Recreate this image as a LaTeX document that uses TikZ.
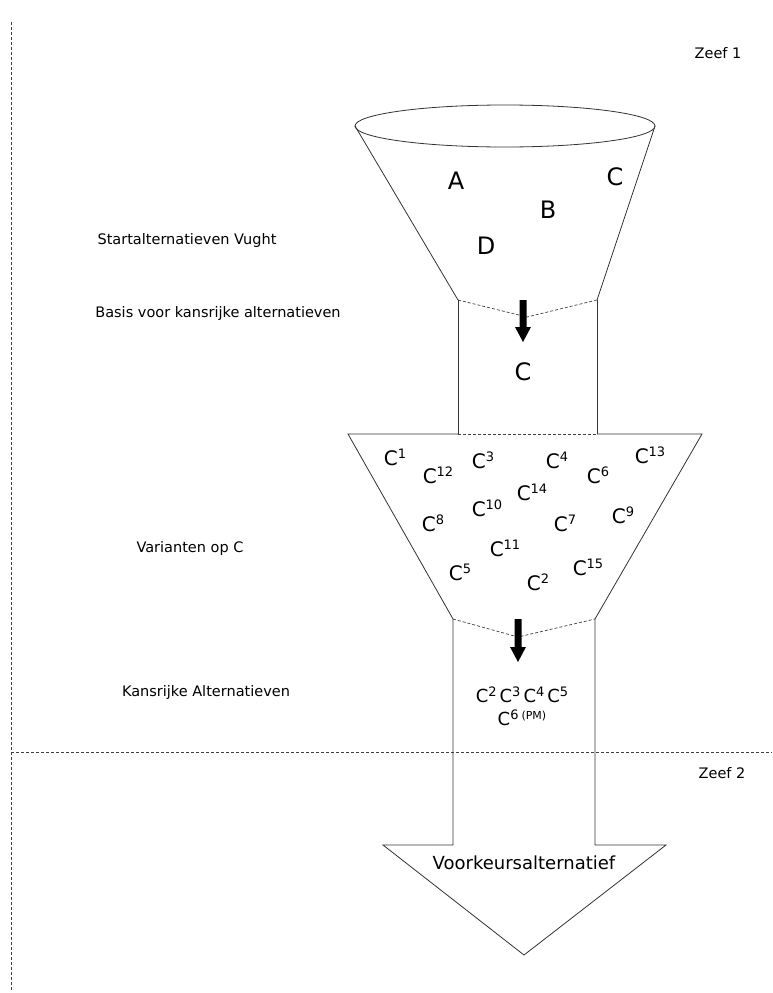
\documentclass[tikz,border=0pt]{standalone}
\usepackage{fontspec}
\setmainfont{DejaVu Sans}
\newcommand\spr[1]{\raisebox{0.36em}{\fontsize{13}{13}\selectfont #1}}
\newcommand\sprs[1]{\raisebox{0.36em}{\fontsize{11}{11}\selectfont #1}}
\begin{document}
\begin{tikzpicture}[x=1pt,y=-1pt,
  outline/.style={draw=black!80,line width=0.8pt},
  dsh/.style={draw=black!75,dash pattern=on 3pt off 2pt,line width=0.7pt},
  lbl/.style={font=\fontsize{14.5}{17}\selectfont,inner sep=0pt},
  big/.style={font=\fontsize{24}{28}\selectfont,inner sep=0pt},
  cc/.style={font=\fontsize{20}{24}\selectfont,inner sep=0pt},
  kc/.style={font=\fontsize{18}{22}\selectfont,inner sep=0pt},
  fat/.style={fill=black,draw=none}]
\useasboundingbox[fill=white] (0,0) rectangle (772,993);
% guide lines
\coordinate (vtop) at (11,22);
\coordinate (vbot) at (11,990);
\coordinate (hl) at (11,752);
\coordinate (hr) at (772,752);
\draw[dsh] (vtop) -- (vbot);
\draw[dsh] (hl) -- (hr);
% funnel 1
\coordinate (el) at (355,126);
\coordinate (er) at (655,126);
\coordinate (n1l) at (458,300);
\coordinate (n1r) at (597,300);
\coordinate (n1v) at (527,317);
\draw[outline] (505,126) ellipse (150 and 21);
\draw[outline] (el) -- (n1l);
\draw[outline] (er) -- (n1r);
\draw[dsh] (n1l) -- (n1v) -- (n1r);
% tube 1
\coordinate (t1l) at (458,434);
\coordinate (t1r) at (597,434);
\draw[outline] (n1l) -- (t1l);
\draw[outline] (n1r) -- (t1r);
% trapezoid
\coordinate (zl) at (348,434);
\coordinate (zr) at (702,434);
\coordinate (n2l) at (453,619);
\coordinate (n2r) at (595,619);
\coordinate (n2v) at (518,637);
\draw[outline] (t1l) -- (zl) -- (n2l);
\draw[outline] (t1r) -- (zr) -- (n2r);
\draw[dsh] (t1l) -- (t1r);
\draw[dsh] (n2l) -- (n2v) -- (n2r);
% tube 2 and big arrow
\coordinate (t2l) at (453,845);
\coordinate (t2r) at (595,845);
\coordinate (al) at (383,845);
\coordinate (ar) at (666,845);
\coordinate (tip) at (524,955);
\draw[outline] (n2l) -- (t2l) -- (al) -- (tip) -- (ar) -- (t2r) -- (n2r);
% small black arrows
\fill[fat] (519.5,300) -- (526.5,300) -- (526.5,327) -- (531,327) -- (523,342) -- (515,327) -- (519.5,327) -- cycle;
\fill[fat] (514.5,619) -- (521.5,619) -- (521.5,647) -- (526,647) -- (518,662) -- (510,647) -- (514.5,647) -- cycle;
% labels
\node[lbl] (zeef1) at (718,53) {Zeef 1};
\node[lbl] (zeef2) at (722,773) {Zeef 2};
\node[lbl] (start) at (187,240) {Startalternatieven Vught};
\node[lbl] (basis) at (218,313) {Basis voor kansrijke alternatieven};
\node[lbl] (var) at (190,548) {Varianten op C};
\node[lbl] (kans) at (206,692) {Kansrijke Alternatieven};
\node[font=\fontsize{18}{22}\selectfont,inner sep=0pt] (voork) at (524,863) {Voorkeursalternatief};
% funnel letters
\node[big] (A) at (456,181) {A};
\node[big] (B) at (548,210) {B};
\node[big] (C) at (615,177) {C};
\node[big] (D) at (486,246) {D};
\node[big] (Cb) at (523,372) {C};
% variants
\node[cc] (c1) at (395,457) {C\spr{1}};
\node[cc] (c12) at (438,475) {C\spr{12}};
\node[cc] (c3) at (483,460) {C\spr{3}};
\node[cc] (c4) at (557,460) {C\spr{4}};
\node[cc] (c6) at (598,475) {C\spr{6}};
\node[cc] (c13) at (650,455) {C\spr{13}};
\node[cc] (c14) at (532,492) {C\spr{14}};
\node[cc] (c10) at (487,508) {C\spr{10}};
\node[cc] (c8) at (433,523) {C\spr{8}};
\node[cc] (c7) at (565,523) {C\spr{7}};
\node[cc] (c9) at (623,515) {C\spr{9}};
\node[cc] (c11) at (505,548) {C\spr{11}};
\node[cc] (c5) at (460,572) {C\spr{5}};
\node[cc] (c2) at (538,582) {C\spr{2}};
\node[cc] (c15) at (588,567) {C\spr{15}};
% promising
\node[kc] (kr1) at (522,695) {C\spr{2}\,C\spr{3}\,C\spr{4}\,C\spr{5}};
\node[kc] (kr2) at (522,718) {C\spr{6}\,\sprs{(PM)}};
\end{tikzpicture}
\end{document}
